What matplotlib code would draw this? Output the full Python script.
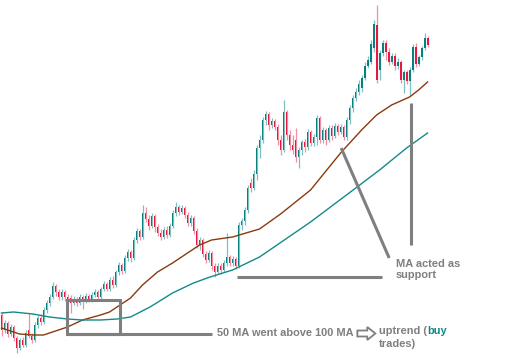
import matplotlib.pyplot as plt
from matplotlib.patches import FancyArrow, Rectangle

# candle prices (arbitrary units) left to right
opens = [45, 30, 37, 26, 33, 22, 12, 20, 15, 30,
         24, 20, 35, 42, 38, 50, 57, 63, 74, 68,
         63, 68, 63, 62, 57, 61, 57, 63, 59, 64,
         60, 65, 68, 63, 71, 76, 71, 80, 75, 88,
         95, 89, 102, 108, 102, 120, 129, 123, 147, 141,
         134, 144, 133, 127, 123, 130, 125, 134, 147, 153,
         148, 152, 145, 137, 142, 129, 115, 120, 106, 100,
         107, 94, 88, 94, 90, 97, 103, 97, 101, 94,
         135, 139, 150, 177, 172, 186, 212, 220, 240, 246,
         235, 239, 233, 220, 210, 248, 225, 215, 220, 203,
         210, 218, 213, 228, 217, 223, 242, 220, 230, 220,
         232, 224, 234, 228, 233, 223, 240, 252, 262, 268,
         272, 282, 294, 298, 312, 335, 290, 307, 317, 308,
         298, 304, 294, 298, 280, 288, 279, 290, 313, 296,
         303, 312, 322]
closes = [30, 37, 26, 33, 22, 12, 20, 15, 27, 24,
          20, 35, 42, 38, 50, 57, 63, 74, 68, 63,
          68, 63, 60, 57, 61, 57, 63, 59, 64, 60,
          65, 68, 63, 71, 76, 71, 80, 75, 88, 95,
          89, 102, 108, 102, 120, 129, 123, 147, 141, 134,
          144, 133, 127, 123, 130, 125, 134, 147, 153, 148,
          152, 145, 137, 142, 129, 115, 120, 106, 100, 107,
          94, 88, 94, 90, 97, 103, 97, 101, 94, 135,
          139, 150, 172, 172, 186, 212, 220, 240, 246, 235,
          239, 233, 220, 210, 248, 225, 215, 210, 203, 210,
          218, 213, 228, 217, 223, 242, 220, 230, 220, 232,
          224, 234, 228, 233, 223, 240, 252, 262, 268, 276,
          282, 294, 300, 316, 336, 280, 307, 317, 308, 298,
          304, 294, 298, 280, 288, 279, 290, 313, 296, 303,
          312, 322, 315]
highs = [48, 40, 39, 36, 35, 24, 22, 23, 30, 47,
         27, 38, 45, 46, 53, 60, 66, 78, 76, 71,
         71, 70, 66, 65, 64, 63, 66, 65, 67, 66,
         68, 71, 70, 73, 79, 78, 83, 84, 90, 98,
         97, 105, 111, 110, 123, 132, 131, 155, 153, 145,
         147, 146, 136, 131, 133, 134, 137, 150, 158, 155,
         155, 154, 148, 145, 144, 132, 123, 122, 109, 110,
         109, 97, 97, 97, 100, 127, 105, 104, 103, 138,
         142, 153, 175, 182, 190, 215, 225, 243, 249, 248,
         242, 241, 236, 225, 260, 250, 230, 225, 232, 213,
         220, 221, 231, 230, 226, 245, 244, 233, 232, 235,
         235, 237, 236, 236, 235, 243, 255, 265, 272, 280,
         285, 298, 304, 320, 340, 355, 310, 320, 320, 312,
         307, 307, 302, 300, 290, 290, 293, 316, 317, 305,
         314, 327, 324]
lows = [24, 27, 23, 24, 19, 7, 10, 13, 13, 22,
        17, 18, 32, 35, 36, 47, 54, 61, 64, 60,
        60, 59, 57, 47, 55, 54, 55, 51, 57, 58,
        58, 63, 61, 61, 69, 69, 69, 72, 73, 85,
        86, 87, 99, 98, 100, 117, 120, 121, 138, 130,
        132, 128, 124, 120, 121, 122, 123, 132, 144, 145,
        146, 142, 134, 134, 126, 112, 110, 103, 97, 98,
        90, 83, 86, 86, 88, 94, 94, 94, 91, 92,
        130, 135, 147, 168, 170, 180, 202, 217, 235, 230,
        232, 230, 215, 205, 208, 220, 210, 206, 198, 192,
        205, 208, 210, 214, 214, 215, 217, 217, 215, 218,
        220, 222, 225, 226, 220, 220, 236, 248, 259, 265,
        268, 280, 292, 296, 308, 277, 280, 304, 300, 295,
        296, 290, 291, 277, 267, 276, 265, 288, 293, 294,
        300, 310, 313]

# moving averages, sampled at candle positions
ma50_pos = [0, 6, 10.5, 14, 17, 22, 27, 33, 36, 39.5, 43, 47, 52, 57, 62, 66,
            70, 77, 86, 93, 103, 113, 120, 125, 130, 136, 139, 142]
ma50_val = [32, 26, 25, 25, 28, 33, 40, 45, 48, 55, 62, 75, 88, 97, 107, 115,
            120, 123, 131, 146, 170, 207, 230, 245, 255, 263, 270, 278]
ma100_pos = [0, 4, 10.5, 16, 22, 27, 33, 38.5, 43, 49.5, 57, 64, 69.5, 77,
             86, 103, 118.5, 126, 135, 142]
ma100_val = [47, 48, 46, 43, 41, 40, 40, 41, 43, 53, 67, 77, 83, 90,
             103, 138, 173, 190, 212, 227]

UP = "#0b7f80"
DOWN = "#e3193f"
UP_WICK = "#7fc0c0"
DOWN_WICK = "#f28fa3"
GREY = "#7f7f7f"


def main():
    fig = plt.figure(figsize=(5.17, 3.59), dpi=100)
    ax = fig.add_axes([0, 0, 1, 1])
    ax.set_xlim(-0.5, 171.8)
    ax.set_ylim(1, 360)
    ax.axis("off")

    idx = list(range(len(closes)))
    up = [c >= o for o, c in zip(opens, closes)]

    # wicks then bodies
    ax.vlines(idx, lows, highs,
              colors=[UP_WICK if u else DOWN_WICK for u in up], lw=0.9, zorder=1)
    bottoms = [min(o, c) for o, c in zip(opens, closes)]
    heights = [max(abs(c - o), 1) for o, c in zip(opens, closes)]
    ax.bar(idx, heights, bottom=bottoms, width=0.62,
           color=[UP if u else DOWN for u in up], zorder=2)

    # 50 and 100 MA
    ax.plot(ma50_pos, ma50_val, color="#8b3a0e", lw=1.0, zorder=3)
    ax.plot(ma100_pos, ma100_val, color="#138a8a", lw=1.0, zorder=3)

    # annotation: crossover box
    ax.add_patch(Rectangle((21.8, 26), 17.7, 34, fill=False,
                           ec=GREY, lw=2.2, zorder=4))
    ax.plot([21.8, 70.2], [26, 26], color=GREY, lw=2.2,
            solid_capstyle="butt", zorder=4)
    font = dict(family="Liberation Sans", weight="bold", size=7.9)
    ax.text(71.8, 26.5, "50 MA went above 100 MA", color=GREY,
            va="center", ha="left", **font)
    ax.add_patch(FancyArrow(118.6, 26.5, 6.0, 0, width=6, head_width=13,
                            head_length=2.7, length_includes_head=True,
                            fc="white", ec=GREY, lw=1.3, zorder=4))
    t1 = ax.text(125.8, 29, "uptrend (", color=GREY,
                 va="center", ha="left", **font)
    ax.annotate("buy", xy=(1, 0), xycoords=t1, va="bottom", ha="left",
                color="#0f8a8a", **font)
    ax.text(125.8, 16, "trades)", color=GREY, va="center", ha="left", **font)

    # annotation: support lines
    ax.plot([78.5, 126.8], [83.5, 83.5], color=GREY, lw=2.2,
            solid_capstyle="butt", zorder=4)
    ax.plot([113.2, 129.2], [212, 102], color=GREY, lw=2.2,
            solid_capstyle="butt", zorder=4)
    ax.plot([136.5, 136.5], [257, 115], color=GREY, lw=2.2,
            solid_capstyle="butt", zorder=4)
    ax.text(131.5, 90.5, "MA acted as\nsupport", color=GREY,
            va="center", ha="left", linespacing=1.2, **font)

    fig.savefig("out.png", dpi=100)
    plt.close(fig)


if __name__ == "__main__":
    main()
